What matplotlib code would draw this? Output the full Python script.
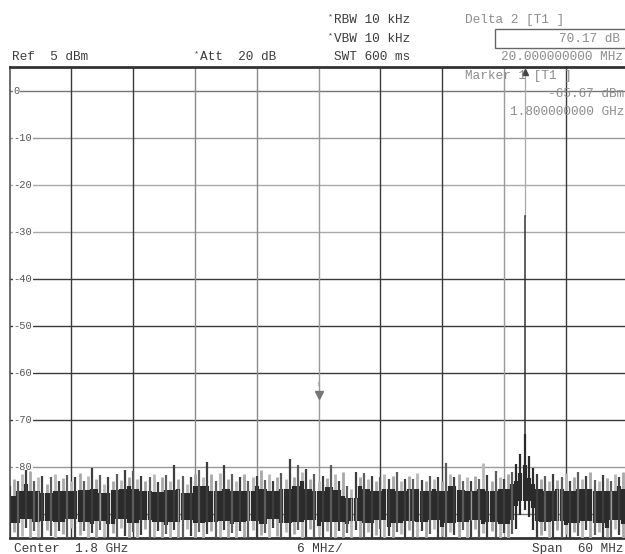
import numpy as np
import matplotlib
matplotlib.use('Agg')
import matplotlib.pyplot as plt
from matplotlib.patches import Rectangle

plt.rcParams['font.family'] = ['Liberation Mono', 'DejaVu Sans Mono']

W, H = 625, 554

# 画面設定 (スペアナ表示)
ref_level = 5
y_bottom = -95
span_mhz = 60
y_levels = [0, -10, -20, -30, -40, -50, -60, -70, -80, -90]
y_labels = ['0', '-10', '-20', '-30', '-40', '-50', '-60', '-70', '-80', '-90']

# 周波数: 1.8 GHz 中心からのオフセット [MHz], 0.4 MHz 刻み
freq_mhz = np.linspace(-30, 30, 151)

# 各点の最大値 [dBm] (画面から読み取り)
trace_hi = [
    -84.0, -82.5, -83.0, -81.5, -80.6, -80.8, -83.0, -82.0, -81.8, -83.5,
    -82.0, -81.5, -83.0, -82.2, -81.6, -83.0, -82.0, -81.3, -82.8, -81.8,
    -80.2, -82.5, -81.7, -83.5, -82.0, -82.8, -81.5, -82.6, -80.5, -82.0,
    -80.8, -82.5, -81.8, -83.0, -82.0, -81.5, -83.2, -82.0, -81.6, -82.8,
    -79.6, -82.5, -81.8, -83.5, -82.0, -81.5, -80.5, -82.0, -78.9, -81.5,
    -83.0, -81.2, -79.4, -82.5, -81.5, -83.0, -82.0, -81.5, -83.0, -82.0,
    -81.8, -80.5, -82.6, -81.5, -83.0, -82.0, -81.2, -82.5, -78.2, -82.0,
    -79.5, -81.0, -80.4, -82.5, -81.5, -83.0, -81.8, -82.2, -79.4, -81.5,
    -82.8, -81.0, -84.0, -84.5, -81.0, -82.0, -81.2, -82.5, -81.8, -83.0,
    -82.0, -81.5, -82.5, -81.8, -81.0, -83.0, -82.5, -81.8, -82.5, -81.2,
    -82.6, -83.0, -81.8, -82.5, -82.0, -83.0, -79.1, -81.5, -82.0, -81.5,
    -82.8, -82.0, -83.0, -81.8, -82.5, -79.0, -81.6, -83.0, -80.8, -82.0,
    -82.5, -81.5, -81.0, -79.3, -77.2, -73.0, -77.5, -80.2, -81.5, -82.5,
    -81.8, -83.0, -81.5, -82.6, -82.0, -81.2, -83.0, -82.0, -81.0, -82.5,
    -81.8, -81.0, -82.6, -83.0, -81.6, -82.2, -83.0, -81.5, -82.0, -81.0,
    -82.5,
]

# 各点の最小値 [dBm]
trace_lo = [
    -95.0, -93.8, -95.0, -94.5, -92.9, -95.0, -93.6, -94.8, -95.0, -93.2,
    -94.6, -95.0, -93.5, -94.2, -95.0, -92.8, -95.0, -94.4, -93.6, -95.0,
    -94.0, -95.0, -93.3, -94.7, -95.0, -93.9, -95.0, -92.9, -94.5, -95.0,
    -93.7, -95.0, -94.3, -93.1, -95.0, -94.8, -93.5, -95.0, -94.1, -95.0,
    -93.4, -94.9, -95.0, -93.0, -94.6, -95.0, -93.8, -95.0, -94.2, -93.5,
    -95.0, -94.7, -93.2, -95.0, -94.0, -95.0, -93.6, -94.8, -95.0, -93.3,
    -95.0, -94.4, -93.9, -95.0, -92.9, -94.6, -95.0, -93.7, -95.0, -94.1,
    -93.4, -95.0, -94.8, -93.0, -95.0, -94.3, -95.0, -93.6, -94.9, -95.0,
    -93.5, -95.0, -94.0, -95.0, -93.2, -94.7, -95.0, -93.8, -95.0, -94.4,
    -93.1, -95.0, -94.6, -95.0, -93.7, -94.2, -95.0, -93.3, -95.0, -94.8,
    -93.6, -95.0, -94.1, -93.0, -95.0, -94.5, -95.0, -93.8, -94.3, -95.0,
    -93.4, -95.0, -94.7, -93.1, -95.0, -94.0, -95.0, -93.6, -94.8, -95.0,
    -93.9, -95.0, -94.2, -93.0, -90.2, -89.0, -90.6, -93.2, -95.0, -94.4,
    -93.5, -95.0, -94.9, -93.3, -95.0, -94.1, -95.0, -93.7, -94.6, -95.0,
    -93.2, -95.0, -94.4, -93.8, -95.0, -94.7, -95.0, -93.1, -94.3, -95.0,
    -93.9,
]

# マーカー
marker1_mhz, marker1_dbm = 0.0, -65.67
marker2_mhz, marker2_dbm = 20.0, 4.5


def px(x, y):
    """ピクセル座標 -> figure 座標."""
    return x / W, 1 - y / H


fig = plt.figure(figsize=(W / 100, H / 100), dpi=100)
ax = fig.add_axes([9.5 / W, (H - 538) / H, 618 / W, 471 / H])
ax.set_xlim(-span_mhz / 2, span_mhz / 2)
ax.set_ylim(y_bottom, ref_level)
ax.set_xticks([])
ax.set_yticks([])
for side in ['top', 'bottom']:
    ax.spines[side].set_linewidth(2.0)
    ax.spines[side].set_color('#333333')
ax.spines['left'].set_linewidth(1.2)
ax.spines['left'].set_color('#555555')
ax.spines['right'].set_visible(False)

# グリッド
h_colors = ['#777777', '#999999', '#aaaaaa', '#aaaaaa', '#3a3a3a',
            '#3a3a3a', '#3a3a3a', '#3a3a3a', '#999999', '#777777']
for lv, c in zip(y_levels, h_colors):
    ax.axhline(lv, color=c, lw=1.0, zorder=1)
v_colors = ['#3a3a3a', '#3a3a3a', '#8a8a8a', '#8a8a8a', '#999999',
            '#3a3a3a', '#3a3a3a', '#999999', '#3a3a3a']
for k, c in enumerate(v_colors):
    ax.axvline(-30 + 6 * (k + 1), color=c, lw=1.0, zorder=1)

for lv, lab in zip(y_levels, y_labels):
    ax.text(-29.6, lv, lab, fontsize=7.5, color='#555555', ha='left',
            va='center', zorder=2,
            bbox=dict(facecolor='white', edgecolor='none', pad=0.4))

# トレース
hi = np.array(trace_hi)
lo = np.array(trace_lo)
# 濃い帯: 隣接点の包絡から
hi_pad = np.pad(hi, 1, mode='edge')
lo_pad = np.pad(lo, 1, mode='edge')
core_top = np.minimum(np.minimum(hi_pad[:-2], hi_pad[1:-1]), hi_pad[2:]) - 2.0
core_bot = np.maximum(np.maximum(lo_pad[:-2], lo_pad[1:-1]), lo_pad[2:]) + 1.9
core_top = np.minimum(core_top, hi)
core_bot = np.maximum(core_bot, lo)

spike_cols = ['#3d3d3d', '#a8a8a8', '#5c5c5c', '#b8b8b8']
cols = [spike_cols[i % 4] for i in range(len(freq_mhz))]
for i in range(123, 128):
    cols[i] = '#2a2a2a'
light = [i for i, c in enumerate(cols) if c in ('#a8a8a8', '#b8b8b8')]
dark = [i for i, c in enumerate(cols) if c not in ('#a8a8a8', '#b8b8b8')]
stripes = [7, 22, 41, 58, 83, 84, 97, 112, 133, 146]

ax.vlines(freq_mhz[light], lo[light], hi[light], colors=[cols[i] for i in light],
          lw=2.0, zorder=3, capstyle='butt')
ax.vlines(freq_mhz, core_bot, core_top, colors='#2b2b2b', lw=3.0, zorder=4,
          capstyle='butt')
ax.vlines(freq_mhz[dark], lo[dark], hi[dark], colors=[cols[i] for i in dark],
          lw=1.6, zorder=5, capstyle='butt')
ax.vlines(freq_mhz[stripes], core_bot[stripes], core_top[stripes],
          colors='#9a9a9a', lw=0.9, zorder=5, capstyle='butt')

# マーカー 1
ax.plot(marker1_mhz, marker1_dbm + 1.1, marker='v', ms=5.5, color='#777777',
        zorder=6)
ax.text(marker1_mhz, marker1_dbm + 3.2, '1', fontsize=4, color='#999999',
        ha='center', va='center', zorder=6)

# マーカー 2 (デルタ)
ax.plot([marker2_mhz, marker2_mhz], [marker2_dbm - 1, -26.6], color='#aaaaaa',
        lw=0.9, zorder=2)
ax.plot([marker2_mhz, marker2_mhz], [-26.6, -73.0], color='#333333',
        lw=1.1, zorder=2)
ax.plot(marker2_mhz, marker2_dbm - 0.5, marker='^', ms=5, color='#444444',
        zorder=6)

# ヘッダ
dark_txt = '#3c3c3c'
mark_txt = '#8c8c8c'
fs = 9.2
fig.text(*px(12, 57), 'Ref  5 dBm', fontsize=fs, color=dark_txt, va='center')
fig.text(*px(194, 54), '*', fontsize=6, color=dark_txt, va='center')
fig.text(*px(200, 57), 'Att  20 dB', fontsize=fs, color=dark_txt, va='center')
fig.text(*px(328, 17), '*', fontsize=6, color=dark_txt, va='center')
fig.text(*px(334, 20), 'RBW 10 kHz', fontsize=fs, color=dark_txt, va='center')
fig.text(*px(328, 36), '*', fontsize=6, color=dark_txt, va='center')
fig.text(*px(334, 39), 'VBW 10 kHz', fontsize=fs, color=dark_txt, va='center')
fig.text(*px(334, 57), 'SWT 600 ms', fontsize=fs, color=dark_txt, va='center')

fig.text(*px(465, 20), 'Delta 2 [T1 ]', fontsize=fs, color=mark_txt,
         va='center')
fig.patches.append(Rectangle(px(495, 48), 150 / W, 19 / H,
                             transform=fig.transFigure, fill=False,
                             edgecolor='#666666', lw=1.0))
fig.text(*px(620, 39), '70.17 dB', fontsize=fs, color=mark_txt, va='center',
         ha='right')
fig.text(*px(623, 57), '20.000000000 MHz', fontsize=fs, color=mark_txt,
         va='center', ha='right')
fig.text(*px(465, 76), 'Marker 1 [T1 ]', fontsize=fs, color=mark_txt,
         va='center')
fig.text(*px(624, 94), '-65.67 dBm', fontsize=fs, color=mark_txt,
         va='center', ha='right')
fig.text(*px(624, 112), '1.800000000 GHz', fontsize=fs, color=mark_txt,
         va='center', ha='right')

# フッタ
fig.text(*px(14, 549), 'Center  1.8 GHz', fontsize=fs, color=dark_txt,
         va='center')
fig.text(*px(297, 549), '6 MHz/', fontsize=fs, color=dark_txt, va='center')
fig.text(*px(624, 549), 'Span  60 MHz', fontsize=fs, color=dark_txt,
         va='center', ha='right')

fig.savefig('out.png', dpi=100)
